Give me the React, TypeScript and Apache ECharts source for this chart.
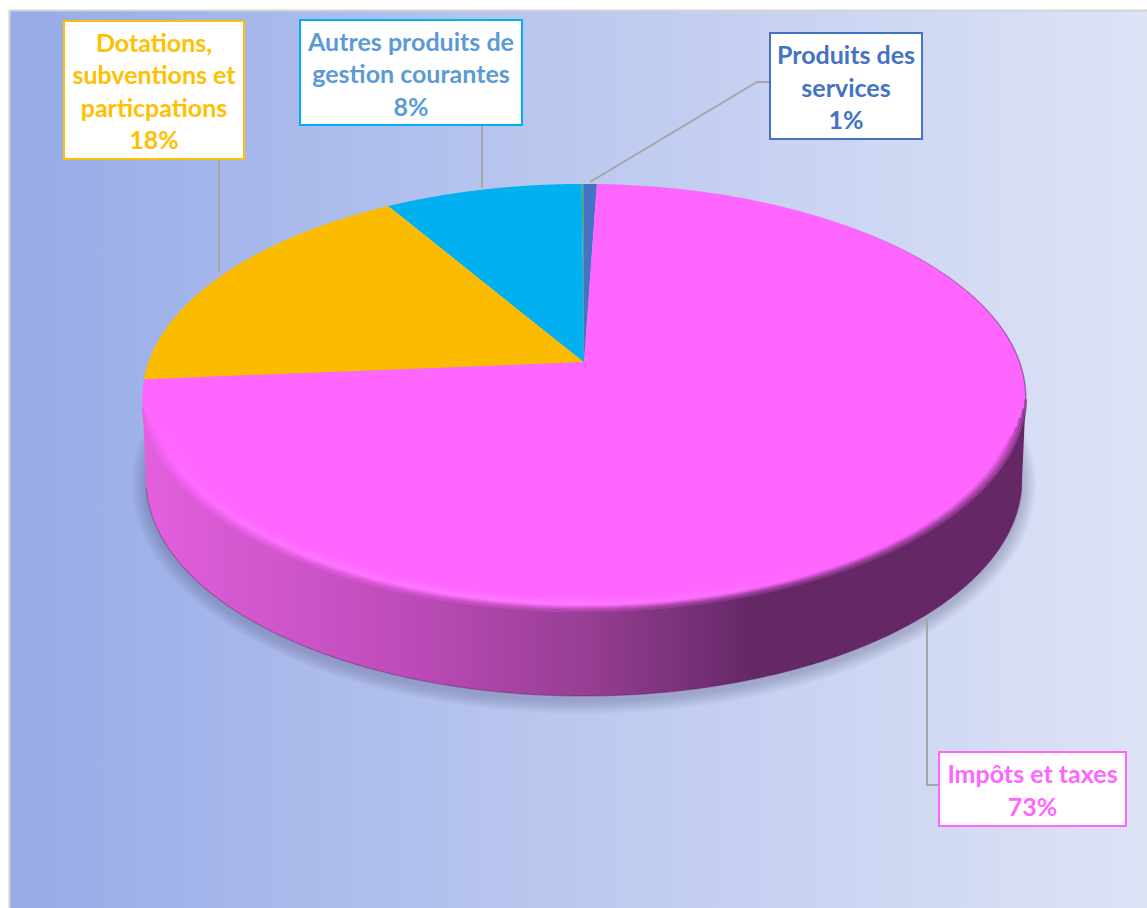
import React, { useEffect, useRef } from "react";
import * as echarts from "echarts";

// ---- data (clockwise from 12 o'clock)
const sliceNames = ["Produits des\nservices", "Impôts et taxes", "Dotations,\nsubventions et\nparticpations", "Autres produits de\ngestion courantes", ""];
const sliceValues = [0.55, 73.15, 17.71, 8.49, 0.1];
const sliceColors = ["#4472C4", "#FF66FF", "#FBBC00", "#00B0F0", "#4FA38E"];
const labelColors = ["#4472C4", "#FF66FF", "#FFC000", "#5B9BD5", ""];

// ---- label layout: box [x, y, w, h], leader polyline
const labelBoxes: (number[] | null)[] = [
  [770, 33, 152, 106],
  [939, 752, 187, 74],
  [64, 21, 180, 138],
  [300, 20, 222, 105],
  null,
];
const leaders: (number[][] | null)[] = [
  [[770, 82], [757, 82], [590, 182]],
  [[939, 785], [927, 785], [927, 618]],
  [[219, 159], [219, 272]],
  [[482, 125], [482, 188]],
  null,
];

// ---- pie geometry (perspective projection of a flat disc)
const APEX_X = 584;
const APEX_Y = 362;
const RX = 435.5;
const RY = 208;
const K = 0.168;
const BOTTOM = { cx: 584, cy: 480, rx: 438, ry: 216 };
const rad = (d: number) => (d * Math.PI) / 180;

function pt(deg: number, r = 1): number[] {
  const s = r * Math.sin(rad(deg));
  const c = r * Math.cos(rad(deg));
  const w = 1 + K * c;
  return [APEX_X + (RX * s) / w, APEX_Y - (RY * c) / w];
}
function arc(from: number, to: number, r = 1, step = 0.5): number[][] {
  const out: number[][] = [];
  const n = Math.max(1, Math.ceil(Math.abs(to - from) / step));
  for (let i = 0; i <= n; i++) out.push(pt(from + ((to - from) * i) / n, r));
  return out;
}
function bottomArc(from: number, to: number, grow = 0, dy = 0): number[][] {
  const out: number[][] = [];
  const n = Math.ceil(Math.abs(to - from));
  for (let i = 0; i <= n; i++) {
    const a = rad(from + ((to - from) * i) / n);
    out.push([
      BOTTOM.cx + (BOTTOM.rx + grow) * Math.sin(a),
      BOTTOM.cy + dy - (BOTTOM.ry + grow) * Math.cos(a),
    ]);
  }
  return out;
}

const total = sliceValues.reduce((a, b) => a + b, 0);
let running = 0;
const sliceRows = sliceValues.map((v, i) => {
  const start = (running / total) * 360;
  running += v;
  return [i, start, (running / total) * 360];
});

const wallGradient = () =>
  new echarts.graphic.LinearGradient(0, 0, 1, 0, [
    { offset: 0, color: "#E45FDF" },
    { offset: 0.15, color: "#CF56CB" },
    { offset: 0.3, color: "#BD4BB9" },
    { offset: 0.5, color: "#983E94" },
    { offset: 0.69, color: "#652867" },
    { offset: 1, color: "#652766" },
  ]);

export default function App() {
  const ref = useRef<HTMLDivElement>(null);
  useEffect(() => {
    document.body.style.margin = "0";
    const chart = echarts.init(ref.current!, undefined, { renderer: "svg" });

    const graphics: any[] = [
      {
        type: "rect",
        z: 0,
        shape: { x: 9.5, y: 10.5, width: 1140, height: 900 },
        style: {
          fill: new echarts.graphic.LinearGradient(0, 0, 1, 0, [
            { offset: 0, color: "#96ABE7" },
            { offset: 0.5, color: "#BCC9EF" },
            { offset: 1, color: "#DEE3F6" },
          ]),
          stroke: "#D4D4D4",
          lineWidth: 2,
        },
      },
    ];
    sliceNames.forEach((name, i) => {
      const box = labelBoxes[i];
      const leader = leaders[i];
      if (!box || !leader) return;
      graphics.push({
        type: "polyline",
        z: 20,
        shape: { points: leader },
        style: { stroke: "#A6A6A6", lineWidth: 2, fill: "none" },
      });
      graphics.push({
        type: "rect",
        z: 21,
        shape: { x: box[0], y: box[1], width: box[2], height: box[3] },
        style: { fill: "#FFFFFF", stroke: sliceColors[i] === "#FBBC00" ? "#FFC000" : sliceColors[i], lineWidth: 2 },
      });
      graphics.push({
        type: "text",
        z: 22,
        x: box[0] + box[2] / 2,
        y: box[1] + box[3] / 2 + 0.5,
        style: {
          text: `${name}\n${Math.round((sliceValues[i] / total) * 100)}%`,
          font: 'bold 25px Lato, "Noto Sans", sans-serif',
          fill: labelColors[i],
          align: "center",
          verticalAlign: "middle",
          lineHeight: 32.5,
        },
      });
    });

    chart.setOption({
      animation: false,
      backgroundColor: "#FFFFFF",
      graphic: graphics,
      series: [
        {
          type: "custom",
          coordinateSystem: "none",
          silent: true,
          z: 2,
          data: [[0]],
          renderItem: () => {
            const children: any[] = [];
            for (let g = 14; g >= 1; g--) {
              children.push({
                type: "polygon",
                shape: { points: bottomArc(0, 360, g, 4) },
                style: { fill: "rgba(85,90,110,0.022)" },
              });
            }
            children.push({
              type: "polygon",
              shape: { points: [...arc(99.7, 260.3), ...bottomArc(270, 90)] },
              style: { fill: wallGradient() },
            });
            children.push({
              type: "polyline",
              shape: { points: bottomArc(92, 268) },
              style: { stroke: "rgba(85,25,85,0.35)", lineWidth: 1.2, fill: "none" },
            });
            return { type: "group", children };
          },
        },
        {
          type: "custom",
          coordinateSystem: "none",
          silent: true,
          z: 3,
          data: sliceRows,
          renderItem: (_p: any, api: any) => {
            const i = api.value(0);
            return {
              type: "polygon",
              shape: { points: [[APEX_X, APEX_Y], ...arc(api.value(1), api.value(2), 1, 0.25)] },
              style: { fill: sliceColors[i] },
            };
          },
        },
        {
          type: "custom",
          coordinateSystem: "none",
          silent: true,
          z: 4,
          data: [[0]],
          renderItem: () => {
            const children: any[] = [];
            // soft light band near the front edge
            const bands = [0.958, 0.965, 0.972, 0.979, 0.986];
            const peak = [0.05, 0.1, 0.16, 0.1, 0.05];
            bands.forEach((r, j) => {
              children.push({
                type: "polyline",
                shape: { points: arc(120, 255, r, 1) },
                style: {
                  fill: "none",
                  lineWidth: 3,
                  stroke: new echarts.graphic.LinearGradient(0, 0, 1, 0, [
                    { offset: 0, color: "rgba(255,165,255,0)" },
                    { offset: 0.1, color: `rgba(255,165,255,${peak[j]})` },
                    { offset: 0.5, color: `rgba(255,165,255,${peak[j] * 1.3})` },
                    { offset: 0.8, color: "rgba(255,165,255,0)" },
                    { offset: 1, color: "rgba(255,165,255,0)" },
                  ]),
                },
              });
            });
            // soft transition from the top face into the side wall
            for (let j = 0; j < 6; j++) {
              children.push({
                type: "polyline",
                shape: { points: arc(100 + j * 2.5, 258 - j * 2, 1 - j * 0.004, 1) },
                style: {
                  fill: "none",
                  lineWidth: 2.6,
                  opacity: 0.66 - j * 0.12,
                  stroke: wallGradient(),
                },
              });
            }
            // thin dark rim along the right edge
            children.push({
              type: "polyline",
              shape: { points: arc(40, 100, 1, 1) },
              style: {
                fill: "none",
                lineWidth: 1.4,
                stroke: new echarts.graphic.LinearGradient(0, 0, 1, 0, [
                  { offset: 0, color: "rgba(101,39,102,0)" },
                  { offset: 1, color: "rgba(101,39,102,0.55)" },
                ]),
              },
            });
            return { type: "group", children };
          },
        },
      ],
    });
    return () => chart.dispose();
  }, []);
  return <div ref={ref} style={{ position: "fixed", left: 0, top: 0, width: 1147, height: 908 }} />;
}
